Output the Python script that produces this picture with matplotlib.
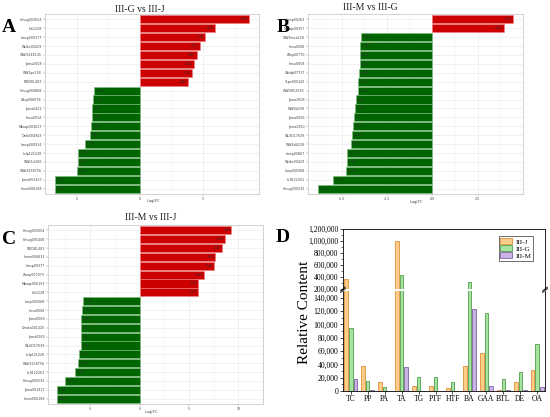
import matplotlib.pyplot as plt
from matplotlib.patches import Patch
import numpy as np

plt.rcParams['font.family'] = ['DejaVu Sans']

# ---------------- data ----------------
# panel A : III-G vs III-J (top -> bottom)
genes_a = ['Hmug003654', 'Ihh1228', 'Lmsp000377', 'Weike00429', 'WWlS146145',
           'Jpma2608', 'WWSpc528', 'NlEDKL403', 'Hmug004808', 'Zdsp006078',
           'Jpma0422', 'Imsa0014', 'Mbaqe003617', 'Dafo004943', 'Lmsp000914',
           'Lcfp121228', 'WWlScl266', 'WWlS158756', 'Jpma001427', 'Lmon006168']
fc_a = [8.66, 5.92, 5.18, 4.71, 4.47, 4.24, 4.11, 3.82,
        -3.71, -3.76, -3.84, -3.84, -3.92, -3.97, -4.37, -4.92,
        -4.97, -5.05, -6.79, -6.79]

# panel B : III-M vs III-G
genes_b = ['Lmsp00263', 'Mbaqe00357', 'WWSmca528', 'Imsa0008', 'Zdsp00770',
           'Imsa0058', 'Weidp07727', 'Ycpn000143', 'WWSHC2065', 'Jpma2608',
           'WWSb338', 'Jpma0066', 'Jpma2380', 'WLSD17639', 'WWSd4228',
           'Lmsp00867', 'Weike00429', 'Lasp005068', 'Lcfl122261', 'Hmug000233']
fc_b = [4.47, 3.94, -3.96, -4.00, -4.02, -4.02, -4.06, -4.11, -4.14, -4.24,
        -4.28, -4.37, -4.39, -4.44, -4.52, -4.72, -4.74, -4.78, -5.50, -6.35]

# panel C : III-M vs III-J
genes_c = ['Hmug003654', 'Hmug005408', 'NlEDKL403', 'Lmon006832', 'Lmsp00377',
           'Zamp007073', 'Mbaqe006153', 'Ihh1228', 'Lasp005068', 'Imsa0008',
           'Jpma0066', 'Dmika001420', 'Jpma0265', 'WLSD17639', 'Lcfp121228',
           'WWlS158756', 'Lcfl122261', 'Hmug000233', 'Jpma001427', 'Lmon006168']
fc_c = [9.30, 8.60, 8.30, 7.63, 7.48, 6.53, 5.93, 5.87,
        -5.78, -5.90, -5.93, -5.93, -5.93, -5.96, -6.14, -6.26,
        -6.60, -7.60, -8.42, -8.42]

# panel D : relative content
compounds = ['TC', 'PP', 'PA', 'TA', 'TG', 'PTF', 'HTF', 'BA', 'GAA', 'BTL', 'DE', 'OA']
content_j = [358000, 37800, 13600, 1000000, 7500, 7500, 4000, 37300, 56900, 2000, 13100, 32200]
content_g = [95200, 15600, 6500, 425000, 21600, 21600, 13600, 307000, 117300, 18600, 28700, 70000]
content_m = [17600, 2000, 500, 36300, 500, 500, 400, 122400, 8000, 2000, 1000, 6000]

RED = '#cc0000'
GREEN = '#006400'
SERIF = 'Liberation Serif'

fig = plt.figure(figsize=(5.5, 4.17), dpi=100)


def px(x, y):
    # pixel -> figure fraction
    return x / 550.0, 1 - y / 417.0


def fc_panel(rect, genes, fc, ticks, tick_labels):
    ax = fig.add_axes(rect)
    n = len(genes)
    ypos = np.arange(n)[::-1]
    cols = [RED if v > 0 else GREEN for v in fc]
    edge = ['#f08080' if v > 0 else '#7fbf7f' for v in fc]
    ax.barh(ypos, fc, height=0.92, color=cols, edgecolor=edge, linewidth=0.4, zorder=2)
    for yy, v in zip(ypos, fc):
        if v > 0:
            ax.text(v - 0.08, yy, '%.2f' % v, ha='right', va='center', fontsize=2.3, color='#333333', zorder=3)
        else:
            ax.text(v + 0.08, yy, '%.2f' % v, ha='left', va='center', fontsize=2.3, color='#333333', zorder=3)
    lo, hi = min(fc), max(fc)
    rng = hi - lo
    ax.set_xlim(lo - 0.05 * rng, hi + 0.05 * rng)
    ax.set_ylim(-0.6, n - 0.4)
    ax.set_yticks(ypos)
    ax.set_yticklabels(genes, fontsize=2.3, color='#444444')
    ax.set_xticks(ticks)
    ax.set_xticklabels(tick_labels, fontsize=2.3, color='#444444')
    minor = [(ticks[i] + ticks[i + 1]) / 2.0 for i in range(len(ticks) - 1)]
    minor = [ticks[0] - (ticks[1] - ticks[0]) / 2.0] + minor + [ticks[-1] + (ticks[1] - ticks[0]) / 2.0]
    ax.set_xticks(minor, minor=True)
    ax.tick_params(which='minor', length=0)
    ax.tick_params(which='major', length=1.2, width=0.3, color='#888888', pad=1)
    ax.grid(True, which='major', color='#ebebeb', lw=0.5, zorder=0)
    ax.grid(True, which='minor', axis='x', color='#f2f2f2', lw=0.3, zorder=0)
    for s in ax.spines.values():
        s.set_color('#cccccc')
        s.set_linewidth(0.6)
    ax.set_axisbelow(True)
    return ax


# A
l, t = px(45, 14)
r, b = px(259, 194)
fc_panel([l, b, r - l, t - b], genes_a, fc_a, [-5, 0, 5], ['-5', '0', '5'])
# B
l, t = px(308, 14)
r, b = px(523, 194)
fc_panel([l, b, r - l, t - b], genes_b, fc_b, [-5, -2.5, 0, 2.5], ['-5.0', '-2.5', '0.0', '2.5'])
# C
l, t = px(48, 225)
r, b = px(263, 404)
fc_panel([l, b, r - l, t - b], genes_c, fc_c, [-5, 0, 5, 10], ['-5', '0', '5', '10'])

# titles, x labels, panel letters
for (x, y, s) in [(140, 9, 'III-G vs III-J'), (370, 7, 'III-M vs III-G'), (151, 217, 'III-M vs III-J')]:
    fig.text(*px(x, y), s, ha='center', va='center', fontsize=7, family=SERIF, color='#222222')
for (x, y) in [(153, 201), (416, 202), (151, 412)]:
    fig.text(*px(x, y), r'Log$_2$FC', ha='center', va='center', fontsize=2.6, color='#444444')
for (x, y, s) in [(9, 27, 'A'), (283, 28, 'B'), (9, 239, 'C'), (283, 237, 'D')]:
    fig.text(*px(x, y), s, ha='center', va='center', fontsize=14, fontweight='bold', family=SERIF)

# ---------------- D : broken axis bar chart ----------------
l, t = px(343, 229)
r, b = px(545, 289)
ax_top = fig.add_axes([l, b, r - l, t - b])
l, t = px(343, 291)
r, b = px(545, 391)
ax_bot = fig.add_axes([l, b, r - l, t - b])

x = np.arange(len(compounds))
w = 0.22
off = 0.28
series = [(content_j, '#ffcc8a', '#d9913a', 'III-J'),
          (content_g, '#a6e3a1', '#4f9e4a', 'III-G'),
          (content_m, '#c9b3e3', '#7e62a3', 'III-M')]
for ax in (ax_top, ax_bot):
    for i, (vals, fcol, ecol, lab) in enumerate(series):
        ax.bar(x + (i - 1) * off, vals, width=w, color=fcol, edgecolor=ecol, linewidth=0.6, label=lab)
    ax.set_xlim(-0.45, len(compounds) - 0.55)
    ax.tick_params(axis='y', labelsize=5.5, length=2.5, width=0.5, direction='out', pad=1)
    ax.tick_params(axis='y', which='minor', length=1.5, width=0.4)
    for s in ax.spines.values():
        s.set_linewidth(0.6)

ax_top.set_ylim(195000, 1200000)
ax_top.set_yticks(np.arange(200000, 1200001, 200000))
ax_top.set_yticks(np.arange(300000, 1200000, 200000), minor=True)
ax_top.set_yticklabels(['{:,}'.format(v) for v in range(200000, 1200001, 200000)], family=SERIF)
ax_top.spines['bottom'].set_visible(False)
ax_top.tick_params(axis='x', bottom=False, labelbottom=False)

ax_bot.set_ylim(0, 150000)
ax_bot.set_yticks(np.arange(0, 140001, 20000))
ax_bot.set_yticks(np.arange(10000, 150000, 20000), minor=True)
ax_bot.set_yticklabels(['{:,}'.format(v) for v in range(0, 140001, 20000)], family=SERIF)
ax_bot.spines['top'].set_visible(False)
ax_bot.set_xticks(x)
ax_bot.set_xticklabels(compounds, fontsize=5.5, family=SERIF)
ax_bot.tick_params(axis='x', length=2, width=0.5, pad=1)

# break marks on both sides
for xx in (0, 1):
    ax_bot.plot([xx - 0.012, xx + 0.012], [1.0, 1.04], transform=ax_bot.transAxes,
                color='k', lw=0.6, clip_on=False)
    ax_bot.plot([xx - 0.012, xx + 0.012], [0.985, 1.025], transform=ax_bot.transAxes,
                color='k', lw=0.6, clip_on=False)

handles = [Patch(facecolor=f, edgecolor=e, linewidth=0.6, label=lb) for (_, f, e, lb) in series]
leg = ax_top.legend(handles=handles, loc='upper right', frameon=True,
                    fancybox=False, edgecolor='k', handlelength=1.6, handleheight=0.9,
                    handletextpad=0.5, borderpad=0.25, labelspacing=0.1,
                    prop={'family': SERIF, 'size': 5.2},
                    bbox_to_anchor=(0.96, 0.94))
leg.get_frame().set_linewidth(0.5)

fig.text(*px(305, 312), 'Relative Content', rotation=90, ha='center', va='center',
         fontsize=11, family=SERIF)

fig.savefig('out.png', dpi=100)
